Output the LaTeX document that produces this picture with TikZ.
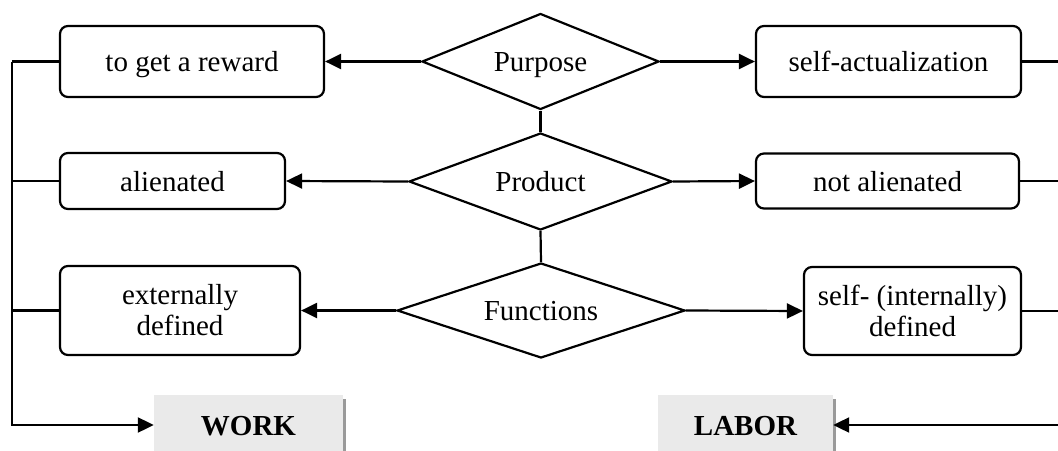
\documentclass[tikz,border=0pt]{standalone}
\usepackage{fontspec}
\setmainfont{Liberation Serif}
\usetikzlibrary{shapes.geometric,arrows.meta,shadows}
\definecolor{boxgray}{HTML}{EAEAEA}
\definecolor{shadowgray}{HTML}{9A9A9A}
\tikzset{
  every node/.style={font=\fontsize{29}{31}\selectfont},
  oneline/.style={text height=27pt, text depth=7pt},
  rbox/.style={draw, line width=2.2pt, rounded corners=8pt, inner sep=0pt, align=center},
  dia/.style={draw, diamond, line width=2.2pt, inner sep=0pt, aspect=2.5, oneline},
  gbox/.style={fill=boxgray, inner sep=0pt, oneline, font=\fontsize{29}{31}\selectfont\bfseries,
    drop shadow={shadow xshift=3pt, shadow yshift=-4pt, fill=shadowgray, opacity=1}},
  conn/.style={line width=2.2pt},
  arr/.style={line width=2.2pt, -{Triangle[length=16pt,width=15pt]}},
}
\begin{document}
\begin{tikzpicture}[x=1pt,y=-1pt]
\useasboundingbox (0,0) rectangle (1058,450);
\clip (0,0) rectangle (1058,450);
% left boxes
\node[rbox, oneline, minimum width=264pt, minimum height=71pt] (rew) at (192,61.5) {to get a reward};
\node[rbox, oneline, minimum width=225pt, minimum height=56pt] (ali) at (172.5,181) {alienated};
\node[rbox, minimum width=240pt, minimum height=89pt] (ext) at (180,310.5) {externally\\defined};
% right boxes
\node[rbox, oneline, minimum width=265pt, minimum height=71pt] (sel) at (888.5,61.5) {self-actualization};
\node[rbox, oneline, minimum width=263pt, minimum height=55pt] (nal) at (887.5,181) {not alienated};
\node[rbox, minimum width=217pt, minimum height=88pt] (int) at (912.5,311) {self- (internally)\\defined};
% diamonds
\node[dia, minimum width=237pt, minimum height=96pt] (pur) at (540.5,61.5) {Purpose};
\node[dia, minimum width=263pt, minimum height=97pt] (pro) at (540.5,181.5) {Product};
\node[dia, minimum width=288pt, minimum height=95pt] (fun) at (541,310.5) {Functions};
% bottom boxes
\node[gbox, minimum width=189pt, minimum height=60pt] (work) at (248.5,425) {WORK};
\node[gbox, minimum width=175pt, minimum height=60pt] (lab) at (745.5,425) {LABOR};
% coordinates for the side rails
\coordinate (LT) at (12,61.5);
\coordinate (LB) at (12,425);
\coordinate (RT) at (1064,61.5);
\coordinate (RB) at (1064,425);
% diamond to diamond
\draw[conn] (pur.south) -- (pro.north);
\draw[conn] (pro.south) -- (fun.north);
% diamond to boxes
\draw[arr] (pur.west) -- (rew.east);
\draw[arr] (pur.east) -- (sel.west);
\draw[arr] (pro.west) -- (ali.east);
\draw[arr] (pro.east) -- (nal.west);
\draw[arr] (fun.west) -- (ext.east);
\draw[arr] (fun.east) -- (int.west);
% left rail
\draw[conn] (rew.west) -- (rew.west -| LT);
\draw[conn] (ali.west) -- (ali.west -| LT);
\draw[conn] (ext.west) -- (ext.west -| LT);
\draw[arr] (LT) -- (LB) -- (work.west);
% right rail
\draw[conn] (sel.east) -- (sel.east -| RT);
\draw[conn] (nal.east) -- (nal.east -| RT);
\draw[conn] (int.east) -- (int.east -| RT);
\draw[arr] (RT) -- (RB) -- (lab.east);
\end{tikzpicture}
\end{document}
